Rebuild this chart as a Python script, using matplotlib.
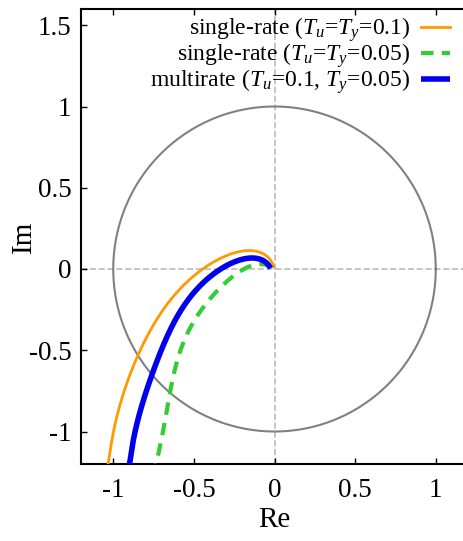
import numpy as np
import matplotlib
matplotlib.use("Agg")
import matplotlib.pyplot as plt

plt.rcParams['font.family'] = ['Liberation Serif', 'DejaVu Serif']
plt.rcParams['mathtext.fontset'] = 'custom'
plt.rcParams['mathtext.rm'] = 'Liberation Serif'
plt.rcParams['mathtext.it'] = 'Liberation Serif:italic'
plt.rcParams['mathtext.bf'] = 'Liberation Serif:bold'

# Nyquist curves (Re, Im)
single_01_re = [-1.074, -1.034, -0.989, -0.935, -0.862, -0.772, -0.648, -0.545, -0.44, -0.338, -0.234, -0.131, -0.059, -0.017, -0.003]
single_01_im = [-1.40, -1.196, -0.970, -0.765, -0.56, -0.375, -0.195, -0.088, 0.004, 0.066, 0.10, 0.113, 0.097, 0.055, 0.014]

single_005_re = [-0.768, -0.731, -0.690, -0.648, -0.607, -0.555, -0.488, -0.40, -0.318, -0.234, -0.152, -0.09, -0.038, -0.007]
single_005_im = [-1.40, -1.196, -0.970, -0.765, -0.601, -0.417, -0.29, -0.19, -0.098, -0.037, 0.018, 0.039, 0.025, 0.004]

multi_re = [-0.94, -0.900, -0.855, -0.803, -0.741, -0.659, -0.607, -0.524, -0.42, -0.318, -0.214, -0.11, -0.048, -0.024]
multi_im = [-1.40, -1.196, -0.970, -0.765, -0.601, -0.417, -0.283, -0.17, -0.068, 0.004, 0.051, 0.072, 0.051, 0.004]

labels = [r'single-rate ($T_u$=$T_y$=0.1)',
          r'single-rate ($T_u$=$T_y$=0.05)',
          r'multirate ($T_u$=0.1, $T_y$=0.05)']

xticks = [-1, -0.5, 0, 0.5, 1]
xticklabels = ['-1', '-0.5', '0', '0.5', '1']
yticks = [-1, -0.5, 0, 0.5, 1, 1.5]
yticklabels = ['-1', '-0.5', '0', '0.5', '1', '1.5']

fig = plt.figure(figsize=(4.63, 5.41), dpi=100)
ax = fig.add_axes([81/463, 77/541, 387/463, 455/541])

ax.axhline(0, color='#bbbbbb', ls='--', lw=1.2, zorder=1)
ax.axvline(0, color='#bbbbbb', ls='--', lw=1.2, zorder=1)

th = np.linspace(0, 2*np.pi, 400)
ax.plot(np.cos(th), np.sin(th), color='#808080', lw=1.5, zorder=2)


def smooth_fit(xs, ys, deg=6, n=400):
    """Least-squares parametric polynomial through read points (chord-length param)."""
    xs = np.asarray(xs, float); ys = np.asarray(ys, float)
    d = np.r_[0, np.cumsum(np.hypot(np.diff(xs), np.diff(ys)))]
    t = d / d[-1]
    w = np.ones_like(t); w[-1] = 5.0
    px = np.polyfit(t, xs, deg, w=w)
    py = np.polyfit(t, ys, deg, w=w)
    tt = np.linspace(0, 1, n)
    return np.polyval(px, tt), np.polyval(py, tt)


x1, y1 = smooth_fit(single_01_re, single_01_im)
x2, y2 = smooth_fit(single_005_re, single_005_im)
x3, y3 = smooth_fit(multi_re, multi_im)

l1, = ax.plot(x1, y1, color='#ff9900', lw=2.0, zorder=3)
l2, = ax.plot(x2, y2, color='#33cc33', lw=3.0, ls=(0, (3, 2)), zorder=3)
l3, = ax.plot(x3, y3, color='#0000ee', lw=4.0, zorder=4, solid_capstyle='butt')

ax.set_xlim(-1.2, 1.2)
ax.set_ylim(-1.2, 1.6)
ax.set_xticks(xticks)
ax.set_xticklabels(xticklabels)
ax.set_yticks(yticks)
ax.set_yticklabels(yticklabels)
ax.tick_params(direction='in', top=True, right=False, labelsize=19.5, length=4, width=1)
ax.tick_params(axis='x', pad=10)
ax.tick_params(axis='y', pad=7)
for s in ax.spines.values():
    s.set_linewidth(1.5)
ax.set_xlabel('Re', fontsize=21, labelpad=3)
ax.set_ylabel('Im', fontsize=21, labelpad=-6)

leg = ax.legend([l1, l2, l3], labels, loc='upper right', bbox_to_anchor=(459/463, 535/541),
                bbox_transform=fig.transFigure, frameon=False, markerfirst=False,
                fontsize=17, handlelength=1.2, handletextpad=0.45, labelspacing=-0.12,
                borderaxespad=0)

fig.savefig('out.png', dpi=100)
